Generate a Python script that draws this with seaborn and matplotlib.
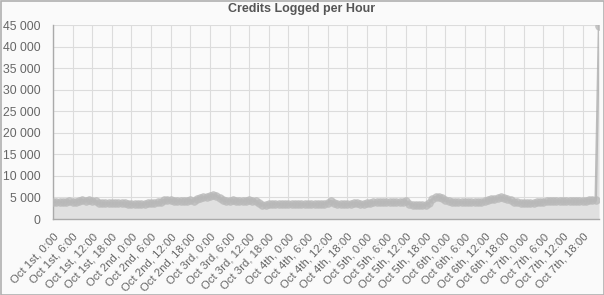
import matplotlib
matplotlib.use("Agg")
import matplotlib.pyplot as plt
import seaborn as sns
import pandas as pd
import numpy as np
from matplotlib.patches import Rectangle

title = "Credits Logged per Hour"

credits = [
    # Oct 1st
    4050, 3980, 4020, 3950, 4000, 4060, 3990, 3970, 4250, 4450, 4250, 4300,
    4200, 4150, 3700, 3650, 3600, 3680, 3620, 3650, 3700, 3640, 3600, 3550,
    # Oct 2nd
    3500, 3450, 3480, 3420, 3500, 3700, 3780, 3820, 3850, 3900, 4300, 4400,
    4350, 4250, 4200, 4280, 4220, 4250, 4300, 4280, 4700, 4900, 5000, 5050,
    # Oct 3rd
    5300, 5570, 5400, 4800, 4400, 4200, 4250, 4300, 4250, 4280, 4220, 4250,
    4300, 4250, 4200, 3600, 3300, 3250, 3400, 3500, 3550, 3480, 3450, 3500,
    # Oct 4th
    3450, 3400, 3500, 3480, 3420, 3450, 3500, 3470, 3430, 3480, 3500, 3550,
    3800, 4150, 3800, 3500, 3450, 3480, 3420, 3500, 3700, 3600, 3500, 3450,
    # Oct 5th
    3700, 3800, 3850, 3900, 3870, 3850, 3900, 3880, 3850, 3900, 3950, 3900,
    4100, 3500, 3300, 3250, 3200, 3250, 3300, 3700, 4600, 5100, 5170, 4800,
    # Oct 6th
    4300, 4100, 4050, 3950, 3900, 3870, 3850, 3880, 3900, 3850, 3900, 4000,
    4200, 4400, 4600, 4700, 4800, 5000, 4900, 4700, 4300, 4000, 3850, 3800,
    # Oct 7th
    3800, 3780, 3820, 3800, 3850, 3900, 4050, 4100, 4120, 4080, 4100, 4150,
    4100, 4080, 4120, 4100, 4150, 4100, 4200, 4250, 4400, 4300, 4350, 44800,
]

days = ["1st", "2nd", "3rd", "4th", "5th", "6th", "7th"]
hours_of_day = [0, 6, 12, 18]
tick_labels = [f"Oct {d}, {h}:00" for d in days for h in hours_of_day]
y_ticks = [0, 5000, 10000, 15000, 20000, 25000, 30000, 35000, 40000, 45000]

df = pd.DataFrame({"hour": range(len(credits)), "credits": credits})

sns.set_style("white")
plt.rcParams["font.family"] = ["Liberation Sans", "DejaVu Sans"]

W, H = 604, 295
fig = plt.figure(figsize=(W / 100, H / 100), dpi=100, facecolor="#fafafa")
left, right, top, bottom = 53, 599, 25, 219
ax = fig.add_axes([left / W, 1 - bottom / H, (right - left) / W, (bottom - top) / H])
ax.set_facecolor("#fafafa")

ax.fill_between(df["hour"], df["credits"], 0, color="#e0e0e0", lw=0, zorder=1)
sns.lineplot(data=df, x="hour", y="credits", ax=ax, color="#a8a8a8", lw=1.8,
             marker="o", markersize=5.5, markeredgewidth=0.6,
             markeredgecolor="#bbbbbb", markerfacecolor="#b8b8b8", alpha=0.75,
             zorder=3)

ax.set_xlim(0, len(credits) - 1)
ax.set_ylim(0, 45000)
ax.set_xticks([i * 6 for i in range(len(tick_labels))])
ax.set_xticklabels(tick_labels, rotation=47, ha="right", rotation_mode="anchor",
                   fontsize=8.2, color="#666666")
ax.set_yticks(y_ticks)
ax.set_yticklabels([f"{v:,}".replace(",", " ") for v in y_ticks],
                   fontsize=8.8, color="#666666")
ax.set_xlabel("")
ax.set_ylabel("")
ax.grid(True, color="#dcdcdc", lw=0.8, zorder=0)
ax.set_axisbelow(True)
ax.tick_params(axis="x", length=8, width=0.8, color="#cccccc", pad=1)
ax.tick_params(axis="y", length=8, width=0.8, color="#cccccc", pad=1)
for s in ["top", "right"]:
    ax.spines[s].set_visible(False)
for s in ["left", "bottom"]:
    ax.spines[s].set_color("#aaaaaa")
    ax.spines[s].set_linewidth(1)

fig.text(0.5, 1 - 9 / H, title, ha="center", va="center", fontsize=9,
         fontweight="bold", color="#555555")
fig.patches.append(Rectangle((0.5 / W, 0.5 / H), 1 - 1 / W, 1 - 1 / H,
                             transform=fig.transFigure, fill=False,
                             edgecolor="#b0b0b0", lw=1.2))

fig.savefig("out.png", dpi=100, facecolor=fig.get_facecolor())
